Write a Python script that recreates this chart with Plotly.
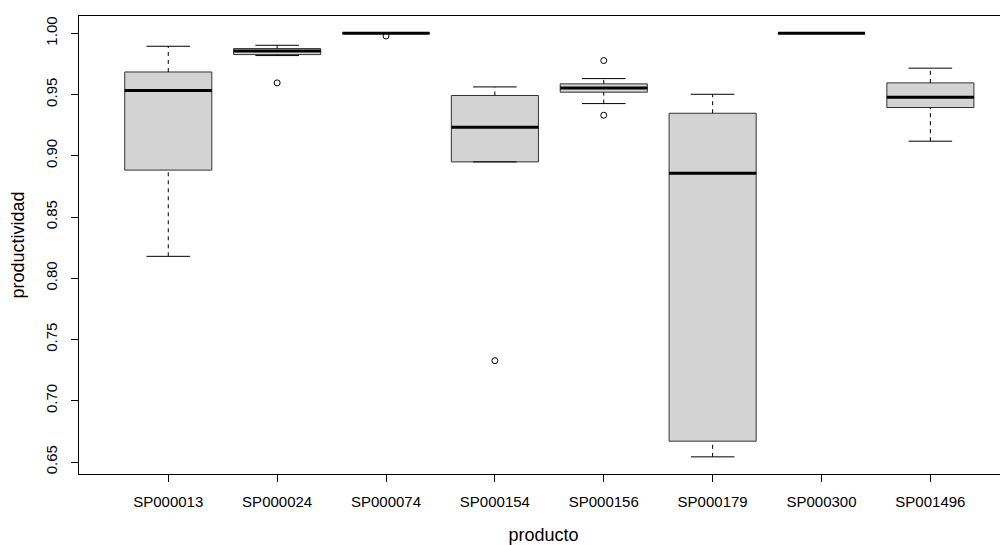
import plotly.graph_objects as go

# ---- data ----
productos = ["SP000013", "SP000024", "SP000074", "SP000154",
             "SP000156", "SP000179", "SP000300", "SP001496"]
whisker_low = [0.8179, 0.9818, 1.0000, 0.8950, 0.9426, 0.6542, 1.0000, 0.9119]
q1          = [0.8883, 0.9826, 1.0000, 0.8950, 0.9519, 0.6670, 1.0000, 0.9394]
mediana     = [0.9533, 0.9856, 1.0000, 0.9233, 0.9554, 0.8858, 1.0000, 0.9478]
q3          = [0.9684, 0.9875, 1.0000, 0.9492, 0.9587, 0.9347, 1.0000, 0.9595]
whisker_high= [0.9894, 0.9902, 1.0000, 0.9562, 0.9630, 0.9502, 1.0000, 0.9715]
outlier_x   = ["SP000024", "SP000074", "SP000154", "SP000156", "SP000156"]
outlier_y   = [0.9595, 0.9978, 0.7327, 0.9777, 0.9331]
y_ticks     = [0.65, 0.70, 0.75, 0.80, 0.85, 0.90, 0.95, 1.00]

pos = list(range(1, len(productos) + 1))
idx = {p: i + 1 for i, p in enumerate(productos)}
BOXW = 0.8
CAPW = 0.4
FONT = "Liberation Sans, Arial, sans-serif"

fig = go.Figure()

# dashed whiskers
wx, wy = [], []
for p, lo, a, b, hi in zip(pos, whisker_low, q1, q3, whisker_high):
    wx += [p, p, None, p, p, None]
    wy += [lo, a, None, b, hi, None]
fig.add_trace(go.Scatter(x=wx, y=wy, mode="lines",
                         line=dict(color="black", width=1, dash="4px,4px"),
                         hoverinfo="skip", showlegend=False))

# boxes
fig.add_trace(go.Box(x=pos, q1=q1, median=mediana, q3=q3,
                     lowerfence=q1, upperfence=q3, width=BOXW,
                     fillcolor="#D3D3D3", line=dict(color="#333333", width=1),
                     boxpoints=False, whiskerwidth=0, showlegend=False))

# thick medians
mx, my = [], []
for p, m in zip(pos, mediana):
    mx += [p - BOXW / 2, p + BOXW / 2, None]
    my += [m, m, None]
fig.add_trace(go.Scatter(x=mx, y=my, mode="lines",
                         line=dict(color="black", width=3),
                         hoverinfo="skip", showlegend=False))

# whisker caps
cx, cy = [], []
for p, lo, hi in zip(pos, whisker_low, whisker_high):
    cx += [p - CAPW / 2, p + CAPW / 2, None, p - CAPW / 2, p + CAPW / 2, None]
    cy += [lo, lo, None, hi, hi, None]
fig.add_trace(go.Scatter(x=cx, y=cy, mode="lines",
                         line=dict(color="black", width=1),
                         hoverinfo="skip", showlegend=False))

# outliers
fig.add_trace(go.Scatter(x=[idx[o] for o in outlier_x], y=outlier_y, mode="markers",
                         marker=dict(symbol="circle-open", size=6,
                                     color="black", line=dict(width=1)),
                         hoverinfo="skip", showlegend=False))

# page body adds an 8px offset; the figure is sized to fill the remaining window
fig.update_layout(
    width=1000, height=537,
    margin=dict(l=71, r=0, t=8, b=71, autoexpand=False),
    paper_bgcolor="white", plot_bgcolor="white",
    font=dict(family=FONT, size=15, color="black"),
    showlegend=False,
    xaxis=dict(range=[0.18, 8.713], tickmode="array", tickvals=pos, ticktext=productos,
               ticks="outside", ticklen=7, tickcolor="black", tickwidth=1,
               ticklabelstandoff=7,
               showline=True, linecolor="black", linewidth=1, mirror=True,
               showgrid=False, zeroline=False, automargin=False,
               title=dict(text="producto", standoff=24),
               tickfont=dict(size=15)),
    yaxis=dict(range=[0.6402, 1.0141], tickmode="array", tickvals=y_ticks,
               ticktext=[f"{v:.2f}" for v in y_ticks], tickangle=-90,
               ticks="outside", ticklen=7, tickcolor="black", tickwidth=1,
               ticklabelstandoff=8,
               showline=True, linecolor="black", linewidth=1, mirror=False,
               showgrid=False, zeroline=False, automargin=False,
               title=dict(text="productividad", standoff=15),
               tickfont=dict(size=15)),
)

fig.write_html("out.html")
